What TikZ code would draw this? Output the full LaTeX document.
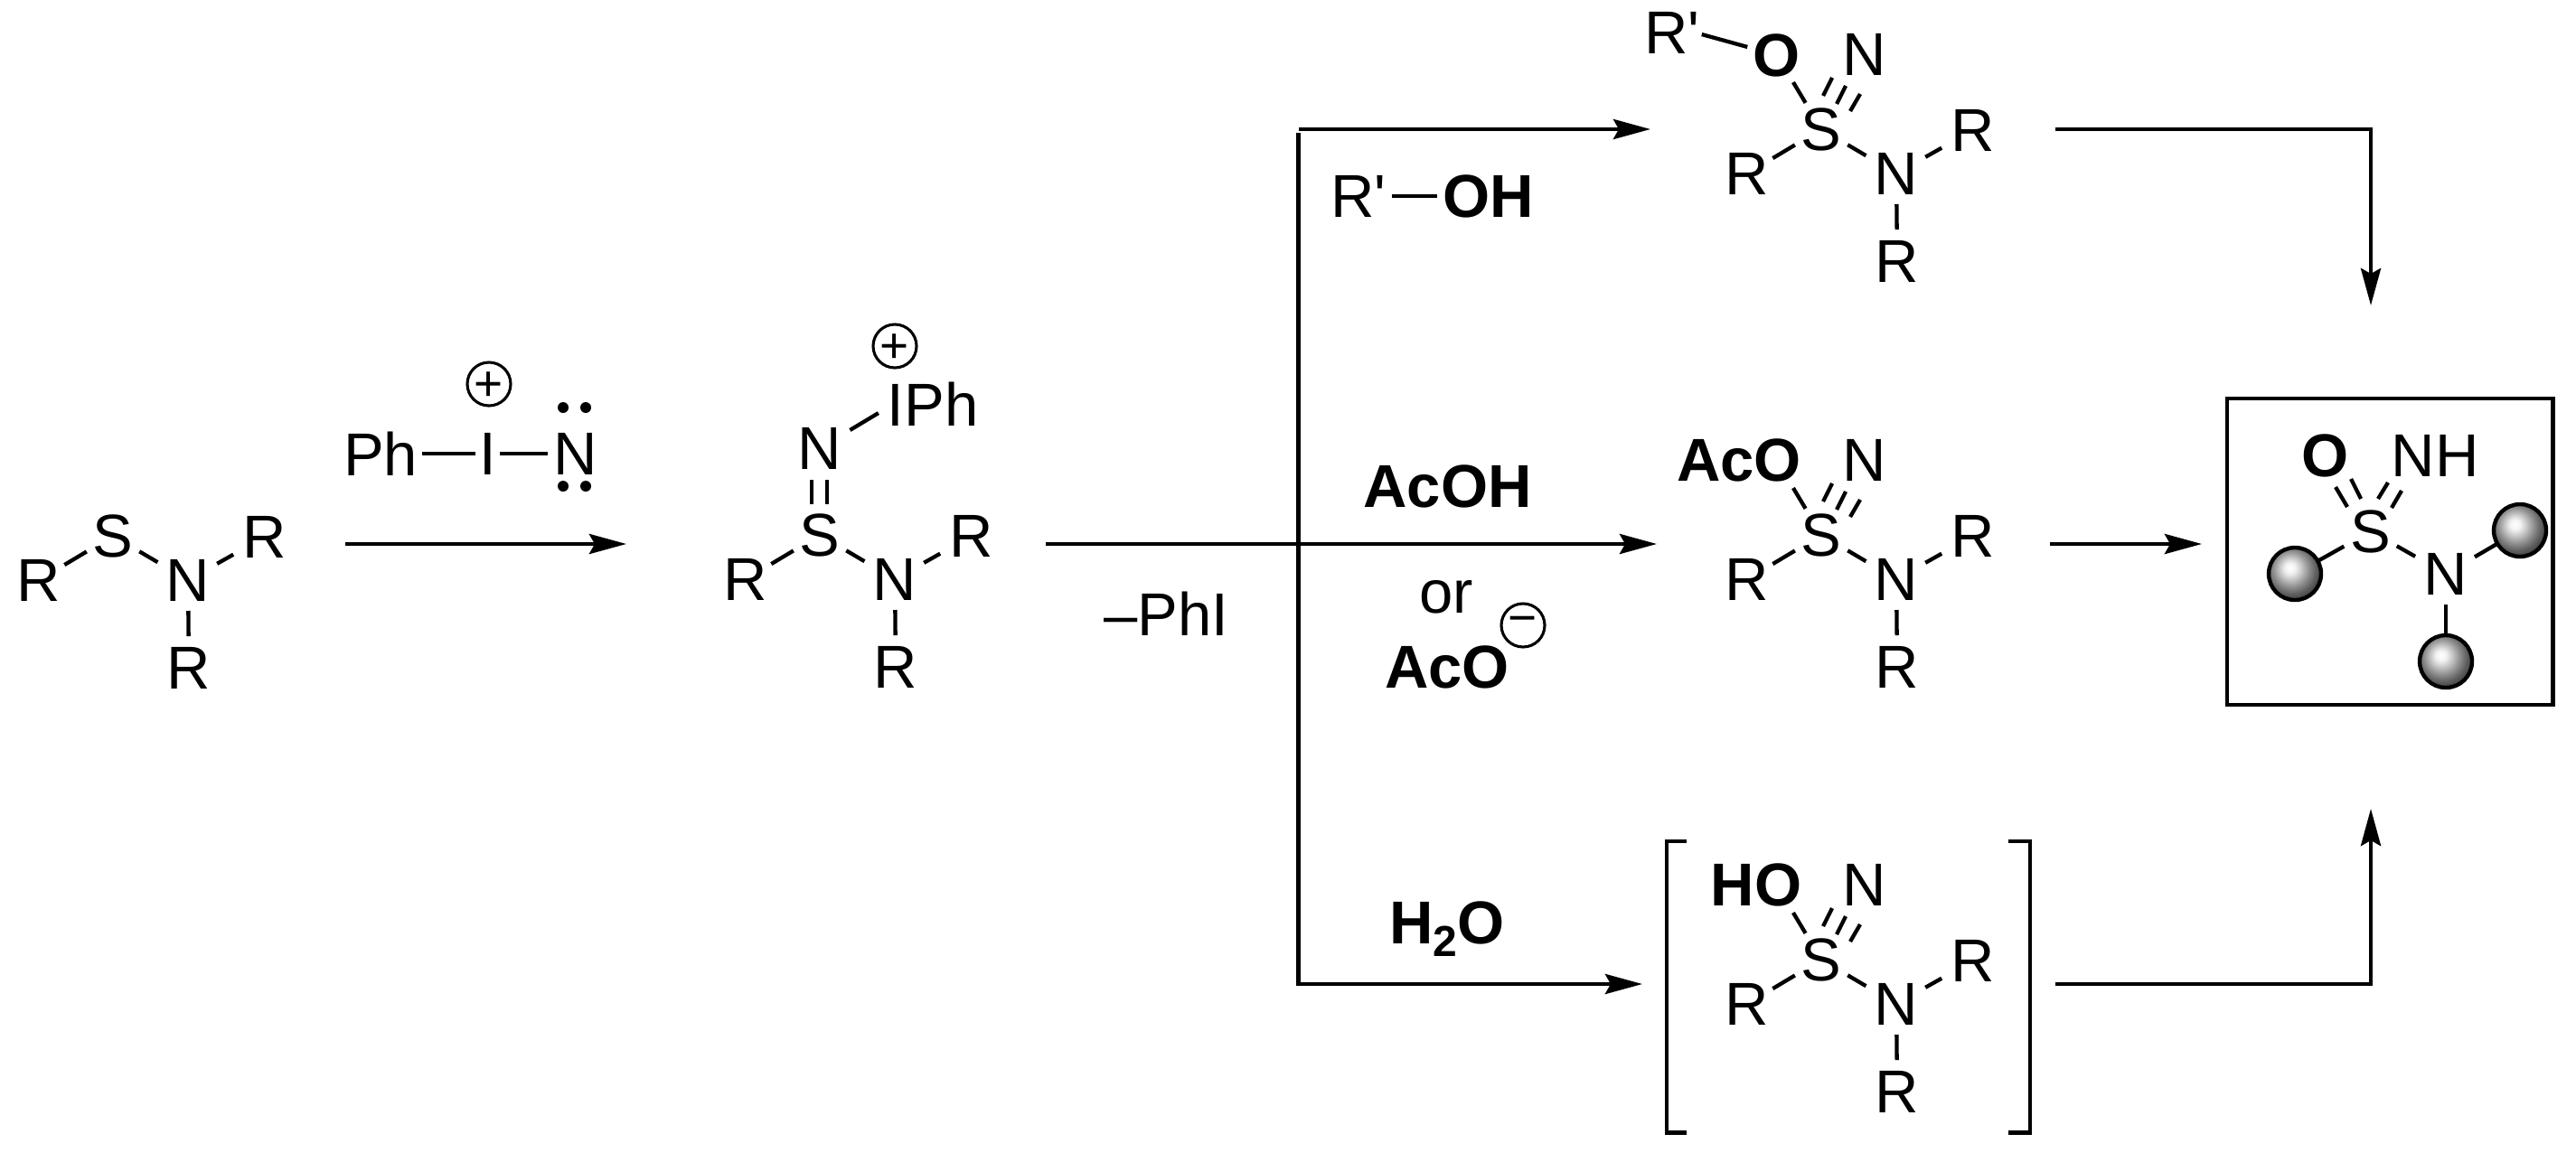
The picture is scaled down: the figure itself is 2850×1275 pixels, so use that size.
\documentclass[tikz,border=0pt]{standalone}
\usepackage{fontspec}
\usetikzlibrary{arrows.meta}
\newfontfamily\chemfont{Liberation Sans}
\pgfdeclareradialshading{ballshade}{\pgfpoint{-5bp}{6bp}}{%
  rgb(0bp)=(1,1,1);
  rgb(5bp)=(0.95,0.95,0.95);
  rgb(11bp)=(0.76,0.76,0.76);
  rgb(17bp)=(0.56,0.56,0.56);
  rgb(23bp)=(0.38,0.38,0.38);
  rgb(30bp)=(0.22,0.22,0.22);
  rgb(70bp)=(0.08,0.08,0.08)}
\tikzset{
  >={Stealth[length=41pt,width=22pt,inset=6pt]},
  every node/.style={inner sep=0pt,outer sep=0pt,font=\chemfont\fontsize{67}{67}\selectfont,text=black},
  bond/.style={line width=4.3pt,line cap=butt,draw=black},
  rxn/.style={line width=4.6pt,draw=black,miter limit=10},
  frame/.style={line width=4.5pt,draw=black,miter limit=10},
  bld/.style={font=\chemfont\bfseries\fontsize{67}{67}\selectfont},
  chargering/.style={circle,draw=black,line width=3.1pt,minimum size=48pt},
  symb/.style={font=\chemfont\fontsize{55}{55}\selectfont},
  ball/.style={circle,minimum size=58pt,draw=black,line width=4.4pt,shading=ballshade},
  pairdot/.style={circle,fill=black,minimum size=12pt},
}
% core: S, N and the three R groups
\newcommand{\corefrag}[3]{%
  \node (#1S) at (#2,#3) {S};
  \node (#1Rl) at ({#2-82},{#3+49}) {R};
  \node (#1N) at ({#2+83},{#3+49}) {N};
  \node (#1Rr) at ({#2+168},{#3+1}) {R};
  \node (#1Rb) at ({#2+84},{#3+146}) {R};
  \draw[bond,shorten <=34pt,shorten >=33pt] (#1S.center) -- (#1Rl.center);
  \draw[bond,shorten <=34pt,shorten >=39pt] (#1S.center) -- (#1N.center);
  \draw[bond,shorten <=37pt,shorten >=40pt] (#1N.center) -- (#1Rr.center);
  \draw[bond,shorten <=34pt,shorten >=35pt] (#1N.center) -- (#1Rb.center);
}
% upper part of the products: single bond to O and triple bond to N
\newcommand{\upperfrag}[3]{%
  \coordinate (#1Oc) at ({#2-49},{#3-82});
  \node (#1Nt) at ({#2+48},{#3-83}) {N};
  \draw[bond,shorten <=34pt,shorten >=35pt] (#1S.center) -- (#1Oc);
  \coordinate (#1ta) at ({#2+12},{#3-57});
  \coordinate (#1tb) at ({#2+2},{#3-37});
  \coordinate (#1tc) at ({#2+27},{#3-48});
  \coordinate (#1td) at ({#2+17},{#3-28});
  \coordinate (#1te) at ({#2+43},{#3-39});
  \coordinate (#1tf) at ({#2+32},{#3-20});
  \draw[bond] (#1ta) -- (#1tb);
  \draw[bond] (#1tc) -- (#1td);
  \draw[bond] (#1te) -- (#1tf);
}
\newcommand{\ringcharge}[5]{%
  \node[chargering] (#1) at (#2,#3) {};
  \node[symb] (#1s) at (#2,{#3+#5}) {#4};
}
\begin{document}
\begin{tikzpicture}[x=1pt,y=-1pt]
\useasboundingbox (0,0) rectangle (2850,1275);
\fill[white] (0,0) rectangle (2850,1275);

% --- sulfenamide
\corefrag{a}{125}{593}

% --- reagent over the first arrow
\node (ph) at (421,502) {Ph};
\node (iod) at (540,502) {I};
\node (nit) at (637,502) {N};
\draw[bond,shorten <=46pt,shorten >=14pt] (ph.center) -- (iod.center);
\draw[bond,shorten <=13pt,shorten >=31pt] (iod.center) -- (nit.center);
\ringcharge{cp1}{541}{425}{+}{3}
\node[pairdot] (lp1) at (623,451) {};
\node[pairdot] (lp2) at (648,451) {};
\node[pairdot] (lp3) at (623,538) {};
\node[pairdot] (lp4) at (648,538) {};
\coordinate (a1s) at (382,602);
\coordinate (a1e) at (693,602);
\draw[rxn,->] (a1s) -- (a1e);

% --- iminoiodinane adduct
\corefrag{b}{907}{592}
\node (bNu) at (907,496) {N};
\node (bI) at (1032,447) {IPh};
\ringcharge{cp2}{990}{383}{+}{3}
\coordinate (bd1a) at (898,531);
\coordinate (bd1b) at (898,558);
\coordinate (bd2a) at (915,531);
\coordinate (bd2b) at (915,558);
\draw[bond] (bd1a) -- (bd1b);
\draw[bond] (bd2a) -- (bd2b);
\coordinate (bIc) at (1007,436);
\draw[bond,shorten <=39pt,shorten >=41pt] (bNu.center) -- (bIc);

% --- main arrow and branches
\coordinate (m1s) at (1157,602);
\coordinate (m1e) at (1833,602);
\draw[rxn,->] (m1s) -- (m1e);
\coordinate (tr0) at (1437,143);
\coordinate (tr1) at (1436.5,147);
\coordinate (tr2) at (1436.5,1089);
\coordinate (tip1) at (1826,143);
\coordinate (tip3) at (1817,1089);
\draw[rxn,->] (tr0) -- (tip1);
\draw[rxn,->] (tr1) -- (tr2) -- (tip3);
\node (minusphi) at (1290,679) {–PhI};

% --- reagents on branches
\node (rp) at (1503,217) {R\char39};
\node[bld] (oh) at (1647,217) {OH};
\draw[bond,shorten <=37pt,shorten >=57pt] (rp.center) -- (oh.center);
\node[bld] (acoh) at (1601.5,538) {AcOH};
\node (orw) at (1600,661) {or};
\node[bld] (aco) at (1601,738) {AcO};
\ringcharge{cm1}{1685}{692}{−}{0}
\node[bld,anchor=base west] (h2o) at (1537,1044) {H\raisebox{-14pt}{\fontsize{48}{48}\selectfont 2}O};

% --- top product
\corefrag{c}{2015}{143}
\upperfrag{c}{2015}{143}
\node[bld] (cO) at (cOc) {O};
\node (cRp) at (1850,36) {R\char39};
\coordinate (cRpb) at (1850,29);
\draw[bond,shorten <=34pt,shorten >=34pt] (cRpb) -- (cO.center);

% --- middle product
\corefrag{d}{2015}{592}
\upperfrag{d}{2015}{592}
\node[bld] (dO) at (1924,509) {AcO};

% --- bottom product, in brackets
\corefrag{e}{2015}{1062}
\upperfrag{e}{2015}{1062}
\node[bld] (eO) at (1943,979) {HO};
\coordinate (bl1) at (1866,931);
\coordinate (bl2) at (1844,931);
\coordinate (bl3) at (1844,1253.5);
\coordinate (bl4) at (1866,1253.5);
\draw[frame] (bl1) -- (bl2) -- (bl3) -- (bl4);
\coordinate (br1) at (2222,931);
\coordinate (br2) at (2246,931);
\coordinate (br3) at (2246,1253.5);
\coordinate (br4) at (2222,1253.5);
\draw[frame] (br1) -- (br2) -- (br3) -- (br4);

% --- arrows to the final box
\coordinate (o1) at (2274,143);
\coordinate (o1t) at (2623,338);
\draw[rxn,->] (o1) -| (o1t);
\coordinate (o2) at (2268,602);
\coordinate (o2t) at (2436,602);
\draw[rxn,->] (o2) -- (o2t);
\coordinate (o3) at (2274,1089);
\coordinate (o3t) at (2623,895);
\draw[rxn,->] (o3) -| (o3t);

% --- boxed sulfonimidamide
\node[draw=black,line width=4.5pt,minimum width=360.5pt,minimum height=339pt] (box) at (2644.2,610.5) {};
\node (fS) at (2623,588) {S};
\node[bld] (fO) at (2573,504) {O};
\node (fNH) at (2694,504) {NH};
\node (fN) at (2706,635) {N};
\node[ball] (bl) at (2539,635) {};
\node[ball] (br) at (2788,587) {};
\node[ball] (bb) at (2706,732) {};
\draw[bond,shorten <=34pt,shorten >=29pt] (fS.center) -- (bl.center);
\draw[bond,shorten <=33pt,shorten >=39pt] (fS.center) -- (fN.center);
\draw[bond,shorten <=37pt,shorten >=29pt] (fN.center) -- (br.center);
\draw[bond,shorten <=34pt,shorten >=30pt] (fN.center) -- (bb.center);
\coordinate (fa) at (2601,530);
\coordinate (fb) at (2612,552);
\coordinate (fc) at (2584,539);
\coordinate (fd) at (2597,561);
\coordinate (fe) at (2642,534);
\coordinate (ff) at (2631,552);
\coordinate (fg) at (2657,543);
\coordinate (fh) at (2646,562);
\draw[bond] (fa) -- (fb);
\draw[bond] (fc) -- (fd);
\draw[bond] (fe) -- (ff);
\draw[bond] (fg) -- (fh);
\end{tikzpicture}
\end{document}
